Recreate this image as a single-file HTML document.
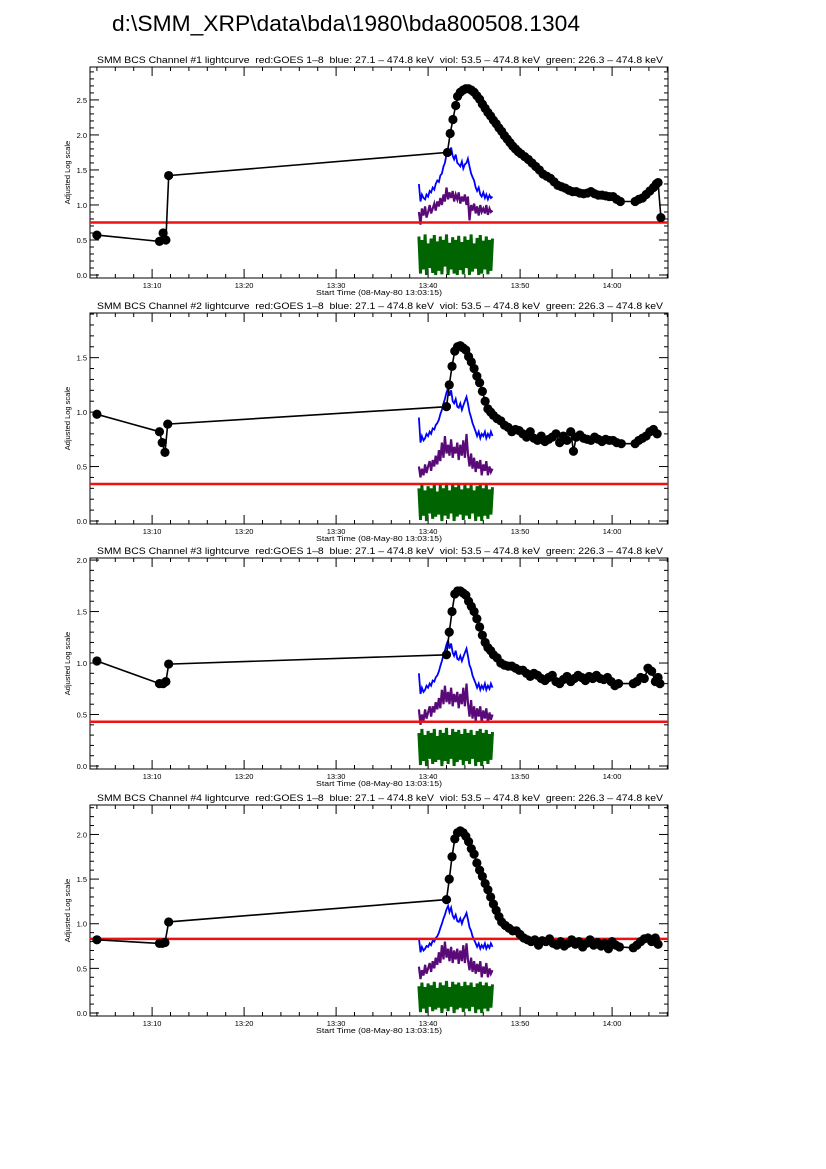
<!DOCTYPE html>
<html><head><meta charset="utf-8"><style>
html,body{margin:0;padding:0;background:#fff;}
svg{display:block;}
text{font-family:"Liberation Sans",sans-serif;fill:#000;white-space:pre;}
</style></head><body>
<svg id="chart" width="826" height="1169" viewBox="0 0 826 1169" xmlns="http://www.w3.org/2000/svg">
<text x="112" y="31" font-size="22" textLength="468" lengthAdjust="spacingAndGlyphs">d:\SMM_XRP\data\bda\1980\bda800508.1304</text>
</svg>
<script>
// ---- data (time in minutes after 13:00) ----
const xTickLabels = ["13:10","13:20","13:30","13:40","13:50","14:00"];
const xTickMinutes = [10,20,30,40,50,60];
const channelNames = ["#1","#2","#3","#4"];
const yMaxes = [2.97,1.91,2.02,2.33];
const yTickLabels1 = ["0.0","0.5","1.0","1.5","2.0","2.5"];
const yTickLabels2 = ["0.0","0.5","1.0","1.5"];
const yTickLabels3 = ["0.0","0.5","1.0","1.5","2.0"];
const yTickLabels4 = ["0.0","0.5","1.0","1.5","2.0"];
const redLevels = [0.75,0.34,0.43,0.83];

const bcsTime1 = [4.0,10.8,11.2,11.5,11.8,42.1,42.4,42.7,43.0,43.2,43.5,43.8,44.1,44.4,44.7,45.0,45.3,45.6,45.9,46.2,46.5,46.8,47.1,47.4,47.7,48.0,48.3,48.6,48.9,49.2,49.5,49.8,50.1,50.5,50.9,51.3,51.7,52.1,52.5,52.9,53.3,53.7,54.1,54.5,54.9,55.3,55.7,56.1,56.5,56.9,57.3,57.7,58.1,58.5,58.9,59.3,59.7,60.1,60.5,60.9,62.5,62.9,63.3,63.7,64.1,64.5,64.8,65.0,65.3];
const bcsVal1 = [0.57,0.48,0.60,0.50,1.42,1.75,2.02,2.22,2.42,2.55,2.61,2.64,2.66,2.66,2.64,2.61,2.56,2.51,2.44,2.38,2.32,2.27,2.21,2.16,2.10,2.05,1.99,1.94,1.89,1.84,1.80,1.76,1.73,1.69,1.65,1.60,1.55,1.50,1.44,1.41,1.38,1.33,1.28,1.26,1.24,1.21,1.19,1.19,1.17,1.16,1.17,1.19,1.16,1.14,1.14,1.13,1.12,1.12,1.08,1.05,1.05,1.08,1.10,1.15,1.20,1.25,1.30,1.32,0.82];
const bcsTime2 = [4.0,10.8,11.1,11.4,11.7,42.0,42.3,42.6,42.9,43.2,43.5,43.8,44.1,44.4,44.7,45.0,45.3,45.6,45.9,46.2,46.5,46.8,47.1,47.5,47.9,48.3,48.7,49.1,49.5,49.9,50.3,50.7,51.1,51.5,51.9,52.3,52.7,53.1,53.5,53.9,54.3,54.7,55.1,55.5,55.8,56.1,56.5,56.9,57.3,57.7,58.1,58.5,58.9,59.3,59.7,60.1,60.5,61.0,62.5,62.9,63.3,63.7,64.1,64.5,64.9];
const bcsVal2 = [0.98,0.82,0.72,0.63,0.89,1.05,1.25,1.42,1.56,1.60,1.61,1.59,1.57,1.51,1.46,1.40,1.33,1.27,1.19,1.10,1.03,1.00,0.97,0.94,0.92,0.88,0.86,0.82,0.84,0.83,0.80,0.77,0.82,0.76,0.74,0.78,0.73,0.75,0.77,0.80,0.72,0.78,0.74,0.82,0.64,0.77,0.79,0.76,0.75,0.74,0.77,0.75,0.73,0.75,0.74,0.74,0.72,0.71,0.71,0.74,0.76,0.78,0.82,0.84,0.80];
const bcsTime3 = [4.0,10.8,11.2,11.5,11.8,42.0,42.3,42.6,42.9,43.2,43.5,43.8,44.1,44.4,44.7,45.0,45.3,45.6,45.9,46.2,46.5,46.8,47.1,47.5,47.9,48.3,48.7,49.1,49.5,49.9,50.3,50.7,51.1,51.5,51.9,52.3,52.7,53.1,53.5,53.9,54.3,54.7,55.1,55.5,55.9,56.3,56.7,57.1,57.5,57.9,58.3,58.7,59.1,59.5,59.9,60.3,60.7,62.3,62.7,63.1,63.5,63.9,64.3,64.7,65.0,65.2];
const bcsVal3 = [1.02,0.80,0.80,0.82,0.99,1.08,1.30,1.50,1.67,1.70,1.70,1.68,1.66,1.60,1.55,1.50,1.43,1.35,1.27,1.20,1.15,1.12,1.08,1.05,1.00,0.98,0.97,0.97,0.95,0.93,0.93,0.90,0.87,0.90,0.88,0.85,0.83,0.86,0.88,0.82,0.80,0.84,0.87,0.82,0.85,0.88,0.86,0.83,0.87,0.85,0.88,0.85,0.84,0.86,0.82,0.78,0.80,0.80,0.82,0.86,0.85,0.95,0.92,0.82,0.86,0.80];
const bcsTime4 = [4.0,10.8,11.1,11.4,11.8,42.0,42.3,42.6,42.9,43.2,43.5,43.8,44.1,44.4,44.7,45.0,45.3,45.6,45.9,46.2,46.5,46.8,47.1,47.4,47.7,48.0,48.4,48.8,49.2,49.6,50.0,50.4,50.8,51.2,51.6,52.0,52.4,52.8,53.2,53.6,54.0,54.4,54.8,55.2,55.6,56.0,56.4,56.8,57.2,57.6,58.0,58.4,58.8,59.2,59.6,60.0,60.4,60.8,62.3,62.7,63.1,63.5,63.9,64.3,64.7,65.0];
const bcsVal4 = [0.82,0.78,0.78,0.79,1.02,1.27,1.50,1.75,1.95,2.02,2.04,2.02,1.98,1.92,1.84,1.78,1.68,1.60,1.53,1.45,1.38,1.30,1.22,1.15,1.08,1.02,0.98,0.95,0.92,0.92,0.88,0.84,0.82,0.80,0.82,0.76,0.81,0.80,0.83,0.78,0.76,0.80,0.75,0.78,0.82,0.77,0.80,0.74,0.78,0.82,0.76,0.79,0.75,0.78,0.72,0.80,0.76,0.74,0.73,0.76,0.80,0.83,0.84,0.80,0.84,0.77];

const hxrTime = [39.0,39.17,39.33,39.5,39.67,39.83,40.0,40.17,40.33,40.5,40.67,40.83,41.0,41.17,41.33,41.5,41.67,41.83,42.0,42.17,42.33,42.5,42.67,42.83,43.0,43.17,43.33,43.5,43.67,43.83,44.0,44.17,44.33,44.5,44.67,44.83,45.0,45.17,45.33,45.5,45.67,45.83,46.0,46.17,46.33,46.5,46.67,46.83,47.0];
const blue1 = [1.30,1.05,1.15,1.10,1.08,1.15,1.12,1.20,1.18,1.25,1.22,1.30,1.35,1.33,1.42,1.45,1.55,1.60,1.72,1.80,1.75,1.82,1.70,1.65,1.72,1.60,1.58,1.55,1.62,1.52,1.58,1.60,1.66,1.55,1.45,1.40,1.35,1.25,1.20,1.25,1.15,1.12,1.18,1.10,1.15,1.08,1.14,1.10,1.12];
const viol1 = [0.90,0.72,0.95,0.85,0.98,0.82,0.90,1.00,0.88,0.95,1.02,0.92,1.05,0.98,1.10,1.00,1.15,1.05,1.25,1.08,1.18,1.10,1.20,1.05,1.15,1.08,1.18,1.02,1.12,1.05,1.15,1.00,1.12,0.78,1.00,0.92,1.02,0.88,0.98,0.85,1.00,0.90,0.95,0.88,1.00,0.86,0.95,0.90,0.92];
const green1 = [0.55,0.02,0.50,0.08,0.58,0.00,0.45,0.10,0.52,0.03,0.57,0.00,0.48,0.06,0.55,0.01,0.50,0.12,0.58,0.00,0.46,0.08,0.54,0.02,0.50,0.00,0.56,0.07,0.47,0.01,0.55,0.10,0.50,0.00,0.58,0.05,0.45,0.09,0.53,0.00,0.57,0.02,0.49,0.08,0.55,0.01,0.50,0.06,0.52];
const blue2 = [0.95,0.72,0.78,0.74,0.76,0.80,0.78,0.82,0.80,0.85,0.84,0.88,0.90,0.93,0.98,1.02,1.08,1.12,1.18,1.22,1.15,1.20,1.10,1.08,1.12,1.05,1.04,1.08,1.02,1.06,1.10,1.14,1.08,1.00,0.95,0.90,0.86,0.82,0.78,0.82,0.76,0.80,0.78,0.82,0.76,0.80,0.77,0.82,0.78];
const viol2 = [0.50,0.40,0.48,0.42,0.52,0.44,0.50,0.55,0.46,0.56,0.50,0.60,0.52,0.65,0.55,0.72,0.58,0.78,0.62,0.70,0.60,0.75,0.58,0.68,0.62,0.72,0.56,0.70,0.60,0.74,0.58,0.80,0.62,0.50,0.62,0.48,0.58,0.45,0.55,0.48,0.56,0.42,0.52,0.46,0.55,0.42,0.50,0.45,0.48];
const green2 = [0.30,0.01,0.33,0.05,0.28,0.00,0.32,0.07,0.30,0.02,0.34,0.04,0.27,0.06,0.33,0.00,0.30,0.05,0.35,0.02,0.28,0.07,0.34,0.00,0.31,0.04,0.33,0.06,0.29,0.01,0.34,0.05,0.30,0.02,0.33,0.07,0.28,0.00,0.32,0.04,0.34,0.00,0.30,0.05,0.33,0.02,0.29,0.06,0.31];
const blue3 = [0.90,0.70,0.76,0.72,0.74,0.78,0.76,0.80,0.78,0.83,0.82,0.86,0.88,0.92,0.97,1.02,1.08,1.12,1.18,1.22,1.14,1.19,1.10,1.07,1.12,1.04,1.03,1.07,1.02,1.06,1.10,1.14,1.07,0.98,0.94,0.88,0.84,0.80,0.76,0.80,0.74,0.78,0.75,0.80,0.74,0.78,0.75,0.80,0.76];
const viol3 = [0.55,0.40,0.50,0.44,0.55,0.46,0.52,0.58,0.48,0.58,0.52,0.62,0.55,0.66,0.56,0.74,0.60,0.78,0.62,0.72,0.60,0.76,0.58,0.70,0.62,0.72,0.56,0.70,0.60,0.76,0.58,0.80,0.62,0.48,0.64,0.46,0.58,0.44,0.56,0.48,0.58,0.42,0.54,0.46,0.56,0.42,0.52,0.45,0.50];
const green3 = [0.32,0.01,0.36,0.05,0.30,0.00,0.34,0.07,0.32,0.02,0.36,0.04,0.29,0.06,0.35,0.00,0.32,0.05,0.37,0.02,0.30,0.07,0.36,0.00,0.33,0.04,0.35,0.06,0.31,0.01,0.36,0.05,0.32,0.02,0.35,0.07,0.30,0.00,0.34,0.04,0.36,0.00,0.32,0.05,0.35,0.02,0.31,0.06,0.33];
const blue4 = [0.84,0.68,0.74,0.70,0.72,0.75,0.74,0.78,0.76,0.81,0.80,0.84,0.86,0.90,0.95,1.00,1.06,1.10,1.16,1.20,1.13,1.18,1.09,1.06,1.10,1.03,1.02,1.06,1.00,1.05,1.08,1.12,1.05,0.96,0.92,0.86,0.82,0.78,0.74,0.78,0.72,0.76,0.73,0.78,0.72,0.76,0.73,0.78,0.74];
const viol4 = [0.52,0.38,0.48,0.42,0.54,0.44,0.50,0.56,0.46,0.58,0.50,0.62,0.54,0.68,0.56,0.76,0.60,0.80,0.62,0.72,0.58,0.74,0.56,0.70,0.60,0.72,0.55,0.70,0.58,0.76,0.56,0.78,0.60,0.48,0.62,0.46,0.58,0.44,0.55,0.46,0.58,0.40,0.52,0.44,0.56,0.40,0.50,0.44,0.48];
const green4 = [0.30,0.01,0.34,0.05,0.29,0.00,0.33,0.07,0.31,0.02,0.35,0.04,0.28,0.06,0.34,0.00,0.31,0.05,0.36,0.02,0.29,0.07,0.35,0.00,0.32,0.04,0.34,0.06,0.30,0.01,0.35,0.05,0.31,0.02,0.34,0.07,0.29,0.00,0.33,0.04,0.35,0.00,0.31,0.05,0.34,0.02,0.30,0.06,0.32];

// ---- layout ----
const svg = document.getElementById('chart');
const NS = 'http://www.w3.org/2000/svg';
const L = 90, R = 668, H = 211;
const tops = [67,313,558,805];
const tMin = 3.25, tMax = 3.25 + (R - L) / 9.2;
function mk(tag, attrs, parent) {
  const e = document.createElementNS(NS, tag);
  for (const k in attrs) e.setAttribute(k, attrs[k]);
  (parent || svg).appendChild(e);
  return e;
}
function xScale(t) { return L + (t - tMin) / (tMax - tMin) * (R - L); }

const allBcsT = [bcsTime1,bcsTime2,bcsTime3,bcsTime4];
const allBcsV = [bcsVal1,bcsVal2,bcsVal3,bcsVal4];
const allBlue = [blue1,blue2,blue3,blue4];
const allViol = [viol1,viol2,viol3,viol4];
const allGreen = [green1,green2,green3,green4];
const allYTicks = [yTickLabels1,yTickLabels2,yTickLabels3,yTickLabels4];

for (let p = 0; p < 4; p++) {
  const top = tops[p], bot = top + H;
  const y0 = bot - 3;
  const yMax = yMaxes[p];
  const yScale = v => y0 - v / yMax * (y0 - top);
  const g = mk('g', {});
  
  

  const title = mk('text', {x: 97, y: top - 4, 'font-size': 9, textLength: 566, lengthAdjust: 'spacingAndGlyphs'}, g);
  
  
  title.textContent = 'SMM BCS Channel ' + channelNames[p] + ' lightcurve  red:GOES 1\u20138  blue: 27.1 \u2013 474.8 keV  viol: 53.5 \u2013 474.8 keV  green: 226.3 \u2013 474.8 keV';

  const frame = mk('rect', {x: L, y: top, width: R - L, height: H, fill: 'none', stroke: '#000', 'stroke-width': 1}, g);
  
  

  for (let m = 4; m <= 66; m += 2) {
    const x = xScale(m);
    const major = m % 10 === 0;
    const len = major ? 9 : 4;
    mk('line', {x1: x, y1: bot, x2: x, y2: bot - len, stroke: '#000', 'stroke-width': 1}, g);
    mk('line', {x1: x, y1: top, x2: x, y2: top + len, stroke: '#000', 'stroke-width': 1}, g);
  }
  xTickLabels.forEach((lab, i) => {
    const t = mk('text', {x: xScale(xTickMinutes[i]), y: bot + 10, 'font-size': 7.5, 'text-anchor': 'middle'}, g);
    
    
    t.textContent = lab;
  });
  const xt = mk('text', {x: 379, y: bot + 17, 'font-size': 7.5, 'text-anchor': 'middle', textLength: 126, lengthAdjust: 'spacingAndGlyphs'}, g);
  
  
  xt.textContent = 'Start Time (08-May-80 13:03:15)';

  for (let k = 0; k * 0.1 <= yMax + 1e-6; k++) {
    const v = k * 0.1;
    const y = yScale(v);
    const major = k % 5 === 0;
    const len = major ? 9 : 4;
    mk('line', {x1: L, y1: y, x2: L + len, y2: y, stroke: '#000', 'stroke-width': 1}, g);
    mk('line', {x1: R, y1: y, x2: R - len, y2: y, stroke: '#000', 'stroke-width': 1}, g);
  }
  allYTicks[p].forEach(lab => {
    const t = mk('text', {x: L - 3, y: yScale(parseFloat(lab)) + 3, 'font-size': 7.5, 'text-anchor': 'end'}, g);
    
    
    t.textContent = lab;
  });
  const yc = (top + bot) / 2;
  const yt = mk('text', {x: 70, y: yc, 'font-size': 7.5, 'text-anchor': 'middle', transform: 'rotate(-90 70 ' + yc + ')'}, g);
  
  
  yt.textContent = 'Adjusted Log scale';

  const series = [[allGreen[p], '#006400', 'green-trace', 3], [allViol[p], '#5a0a78', 'violet-trace', 2.2], [allBlue[p], '#0000ff', 'blue-trace', 1.8]];
  series.forEach(([vals, col, name, w]) => {
    const pts = hxrTime.map((t, i) => xScale(t).toFixed(1) + ',' + yScale(vals[i]).toFixed(1)).join(' ');
    const pl = mk('polyline', {points: pts, fill: 'none', stroke: col, 'stroke-width': w, 'stroke-linejoin': 'miter'}, g);
    
    
  });

  const red = mk('line', {x1: L, x2: R, y1: yScale(redLevels[p]), y2: yScale(redLevels[p]), stroke: '#ee1111', 'stroke-width': 2.5}, g);
  
  

  const T = allBcsT[p], V = allBcsV[p];
  const bl = mk('polyline', {points: T.map((t, i) => xScale(t).toFixed(1) + ',' + yScale(V[i]).toFixed(1)).join(' '), fill: 'none', stroke: '#000', 'stroke-width': 1.6}, g);
  
  
  T.forEach((t, i) => {
    const c = mk('circle', {cx: xScale(t), cy: yScale(V[i]), r: 4.6, fill: '#000'}, g);
    
    
  });
}
</script>
</body></html>
